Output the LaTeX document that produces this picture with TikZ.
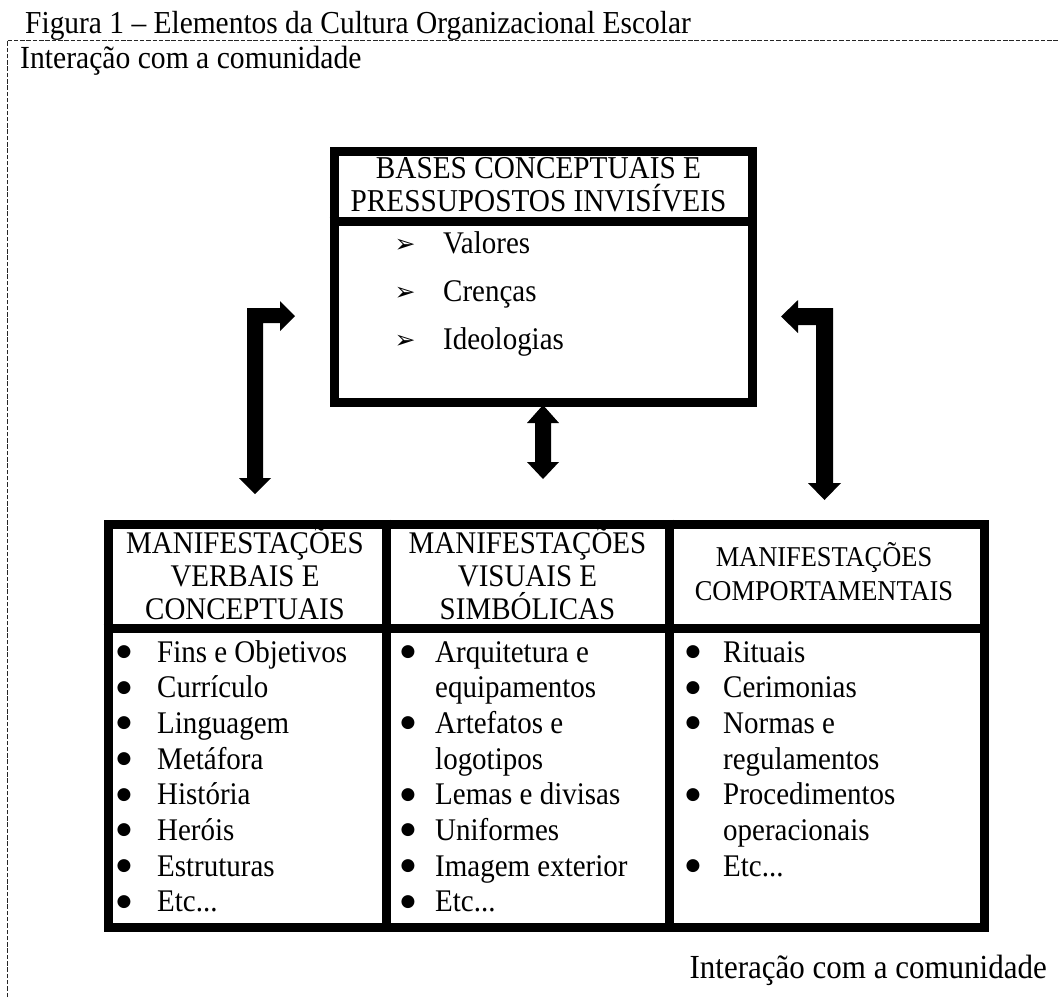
\documentclass[tikz,border=0pt]{standalone}
\usepackage{fontspec}
\setmainfont{Liberation Serif}[FakeStretch=0.92]
\newfontfamily\dejavu{DejaVu Sans}
\newcommand\myetc{Etc...}
\begin{document}
\begin{tikzpicture}[x=1pt,y=-1pt,
  frame/.style={draw=black!85, line width=0.9pt, dash pattern=on 4.5pt off 1.8pt},
  heavy/.style={draw, line width=9pt, inner sep=0pt, anchor=north west},
  rule/.style={line width=9pt},
  txt/.style={inner sep=0pt, font=\fontsize{31.5}{33}\selectfont},
  hdr/.style={txt, anchor=base},
  hdrs/.style={inner sep=0pt, anchor=base, font=\fontsize{28.7}{30}\selectfont},
  item/.style={txt, anchor=base west},
  bul/.style={inner sep=0pt, anchor=center, font=\dejavu\fontsize{17}{18}\selectfont},
  arr/.style={inner sep=0pt, anchor=center, font=\dejavu\fontsize{25}{26}\selectfont},
  blockarrow/.style={fill=black}
]
\useasboundingbox (0,0) rectangle (1059,997);

% caption and frame
\node[inner sep=0pt, anchor=base west, font=\fontsize{32}{34}\selectfont] (cap) at (25,33) {Figura 1 – Elementos da Cultura Organizacional Escolar};
\draw[frame] (7,997) -- (7,40) -- (1059,40);
\node[inner sep=0pt, anchor=base west, font=\fontsize{32.2}{34}\selectfont] (comtop) at (20,68) {Interação com a comunidade};
\node[inner sep=0pt, anchor=base east, font=\fontsize{33.7}{35}\selectfont] (combot) at (1047,978) {Interação com a comunidade};

% top box
\node[heavy, minimum width=418pt, minimum height=251pt] (top) at (329.5,146.5) {};
\draw[rule] (329.5,221.5) -- (747.5,221.5);
\node[inner sep=0pt, anchor=base, font=\fontsize{31.8}{34}\selectfont] (th1) at (538.5,178) {BASES CONCEPTUAIS E};
\node[inner sep=0pt, anchor=base, font=\fontsize{31.8}{34}\selectfont] (th2) at (538.5,211) {PRESSUPOSTOS INVISÍVEIS};
\foreach \t [count=\i] in {Valores, Crenças, Ideologias} {
  \pgfmathsetmacro{\yy}{253+48*(\i-1)}
  \node[arr] (ta\i) at (405,\yy-7) {➢};
  \node[item] (ti\i) at (443,\yy) {\t};
}

% bottom table
\node[heavy, minimum width=876pt, minimum height=403pt] (tab) at (103.5,519.5) {};
\draw[rule] (386,519.5) -- (386,922.5);
\draw[rule] (669,519.5) -- (669,922.5);
\draw[rule] (103.5,628.5) -- (979.5,628.5);

% column headers
\node[hdr] (h11) at (245,553) {MANIFESTAÇÕES};
\node[hdr] (h12) at (245,586) {VERBAIS E};
\node[hdr] (h13) at (245,619) {CONCEPTUAIS};
\node[hdr] (h21) at (527.5,553) {MANIFESTAÇÕES};
\node[hdr] (h22) at (527.5,586) {VISUAIS E};
\node[hdr] (h23) at (527.5,619) {SIMBÓLICAS};
\node[hdrs] (h31) at (824,566) {MANIFESTAÇÕES};
\node[hdrs] (h32) at (824,600) {COMPORTAMENTAIS};

% column 1 items
\foreach \t [count=\i] in {Fins e Objetivos, Currículo, Linguagem, Metáfora, História, Heróis, Estruturas, \myetc} {
  \pgfmathsetmacro{\yy}{662+35.7*(\i-1)}
  \node[bul] (ab\i) at (124,\yy-10) {●};
  \node[item] (a\i) at (157,\yy) {\t};
}
% column 2 items
\foreach \t/\b [count=\i] in {Arquitetura e/1, equipamentos/0, Artefatos e/1, logotipos/0, Lemas e divisas/1, Uniformes/1, Imagem exterior/1, \myetc/1} {
  \pgfmathsetmacro{\yy}{662+35.7*(\i-1)}
  \ifnum\b=1 \node[bul] (bb\i) at (408,\yy-10) {●};\fi
  \node[item] (b\i) at (435,\yy) {\t};
}
% column 3 items
\foreach \t/\b [count=\i] in {Rituais/1, Cerimonias/1, Normas e/1, regulamentos/0, Procedimentos/1, operacionais/0, \myetc/1} {
  \pgfmathsetmacro{\yy}{662+35.7*(\i-1)}
  \ifnum\b=1 \node[bul] (cb\i) at (693,\yy-10) {●};\fi
  \node[item] (c\i) at (723,\yy) {\t};
}

% block arrows
\fill[blockarrow] (263,478) -- (271,478) -- (255,494) -- (239,478) -- (247,478) -- (247,308)
  -- (280,308) -- (280,301) -- (295,316) -- (280,331) -- (280,323) -- (263,323) -- cycle;
\fill[blockarrow] (816,483) -- (808,483) -- (824.5,500) -- (841,483) -- (833,483) -- (833,308)
  -- (798,308) -- (798,300) -- (781,316.5) -- (798,333) -- (798,325) -- (816,325) -- cycle;
\fill[blockarrow] (543,405) -- (559,423) -- (551,423) -- (551,462) -- (559,462) -- (543,479)
  -- (527,462) -- (535,462) -- (535,423) -- (527,423) -- cycle;
\end{tikzpicture}
\end{document}
